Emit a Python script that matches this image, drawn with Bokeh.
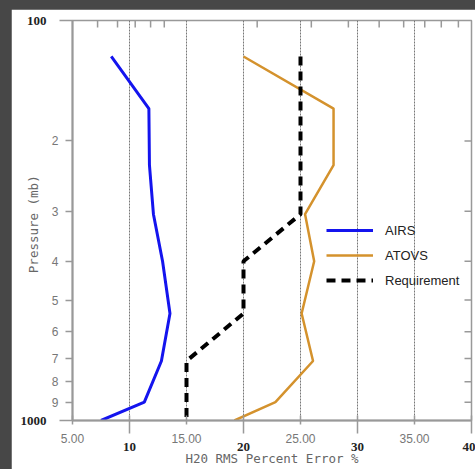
import math
from bokeh.plotting import figure
from bokeh.models import Range1d, LinearAxis, LogAxis, FixedTicker, Legend, LegendItem
from bokeh.layouts import column
from bokeh.embed import file_html
from bokeh.resources import INLINE

# ---- data ----
pressure = [123, 166, 230, 305, 400, 540, 710, 900, 1000]
airs = [8.4, 11.7, 11.75, 12.1, 12.9, 13.55, 12.8, 11.3, 7.5]
atovs = [20.0, 27.9, 27.9, 25.4, 26.2, 25.1, 26.1, 22.8, 19.2]
req_pressure = [123, 305, 400, 540, 710, 1000]
requirement = [25, 25, 20, 20, 15, 15]

# ---- axis ranges / tick definitions ----
x_start, x_end = 5, 40
p_bottom, p_top = 1000, 100
y_minor_ticks = [200, 300, 400, 500, 600, 700, 800, 900]
y_minor_labels = {200: "2", 300: "3", 400: "4", 500: "5", 600: "6", 700: "7", 800: "8", 900: "9"}
y_bold_ticks = [100, 1000]
y_bold_labels = {100: "100", 1000: "1000"}
x_light_ticks = [5, 15, 25, 35]
x_light_labels = {5: "5.00", 15: "15.00", 25: "25.00", 35: "35.00"}
x_bold_ticks = [10, 20, 30, 40]
x_bold_labels = {10: "10", 20: "20", 30: "30", 40: "40"}
x_grid_ticks = [10, 15, 20, 25, 30, 35]
top_ticks = [7.2, 8.95, 10.5, 11.85, 13.05, 21.2, 25.95, 29.2, 31.9, 34.05, 35.9, 37.35, 38.85]

AX = "#999999"

p = figure(width=464, height=460, x_range=Range1d(x_start, x_end), y_range=Range1d(p_bottom, p_top),
           y_axis_type="log", output_backend="svg", toolbar_location=None,
           min_border_left=61, min_border_right=4, min_border_top=11, min_border_bottom=49,
           background_fill_color="white", border_fill_color="white")
p.outline_line_color = AX
p.outline_line_width = 1.5
p.margin = (9, 0, 0, 11)

# left axis 1 : light labels 2..9
ya = p.yaxis[0]
ya.ticker = FixedTicker(ticks=y_minor_ticks, minor_ticks=y_bold_ticks)
ya.major_label_overrides = y_minor_labels
ya.major_tick_out = 7
ya.major_tick_in = 0
ya.minor_tick_out = 13
ya.minor_tick_in = 0
ya.major_label_standoff = 1
ya.major_label_text_font = "Liberation Sans"
ya.major_label_text_font_size = "12px"
ya.major_label_text_color = "#777777"
ya.axis_line_color = AX
ya.axis_line_width = 2
ya.major_tick_line_color = AX
ya.minor_tick_line_color = AX
ya.major_tick_line_width = 1.5
ya.minor_tick_line_width = 1.5

# left axis 2 : bold labels 100 / 1000 and title
ya2 = LogAxis(ticker=FixedTicker(ticks=y_bold_ticks), major_label_overrides=y_bold_labels,
              axis_line_color=None, major_tick_line_color=None, minor_tick_line_color=None,
              major_tick_out=0, major_tick_in=0, major_label_standoff=2,
              major_label_text_font="Liberation Serif", major_label_text_font_style="bold",
              major_label_text_font_size="13px", major_label_text_color="#222222",
              axis_label="Pressure  (mb)", axis_label_standoff=-23,
              axis_label_text_font="DejaVu Sans Mono", axis_label_text_font_size="12.5px",
              axis_label_text_font_style="normal", axis_label_text_color="#666666")
p.add_layout(ya2, "left")

# bottom axis 1 : light labels
xa = p.xaxis[0]
xa.ticker = FixedTicker(ticks=x_light_ticks, minor_ticks=x_bold_ticks)
xa.major_label_overrides = x_light_labels
xa.major_tick_in = 5
xa.major_tick_out = 4
xa.minor_tick_in = 5
xa.minor_tick_out = 13
xa.major_label_standoff = 0
xa.major_label_text_font = "Liberation Sans"
xa.major_label_text_font_size = "12px"
xa.major_label_text_color = "#777777"
xa.axis_line_color = AX
xa.axis_line_width = 2
xa.major_tick_line_color = AX
xa.minor_tick_line_color = AX
xa.major_tick_line_width = 1.5
xa.minor_tick_line_width = 1.5

# bottom axis 2 : bold labels and title
xa2 = LinearAxis(ticker=FixedTicker(ticks=x_bold_ticks), major_label_overrides=x_bold_labels,
                 axis_line_color=None, major_tick_line_color=None, minor_tick_line_color=None,
                 major_tick_out=0, major_tick_in=0, major_label_standoff=-3,
                 major_label_text_font="Liberation Serif", major_label_text_font_style="bold",
                 major_label_text_font_size="13px", major_label_text_color="#222222",
                 axis_label="H20 RMS Percent Error %", axis_label_standoff=-3,
                 axis_label_text_font="DejaVu Sans Mono", axis_label_text_font_size="12.5px",
                 axis_label_text_font_style="normal", axis_label_text_color="#666666")
p.add_layout(xa2, "below")

# grid
p.xgrid.ticker = FixedTicker(ticks=x_grid_ticks)
p.xgrid.grid_line_color = "#777777"
p.xgrid.grid_line_dash = "2 1"
p.xgrid.grid_line_width = 1
p.ygrid.grid_line_color = None

# inward tick marks on the top and right frame edges (half of each dash is clipped by the frame)
p.scatter(top_ticks, [p_top] * len(top_ticks), marker="dash", angle=math.pi / 2, size=14,
          line_color=AX, line_width=1.5)
p.scatter([x_end] * len(y_minor_ticks), y_minor_ticks, marker="dash", size=14,
          line_color=AX, line_width=1.5)

# series
r_airs = p.line(airs, pressure, line_color="#1414ee", line_width=3)
r_atovs = p.line(atovs, pressure, line_color="#d4922d", line_width=2.5)
r_req = p.line(requirement, req_pressure, line_color="black", line_width=4, line_dash="9 6")

legend = Legend(items=[LegendItem(label="AIRS", renderers=[r_airs]),
                       LegendItem(label="ATOVS", renderers=[r_atovs]),
                       LegendItem(label="Requirement", renderers=[r_req])],
                location=(254, 130), background_fill_alpha=0, border_line_color=None,
                glyph_width=47, glyph_height=20, label_height=20, spacing=5,
                padding=0, margin=0, label_standoff=12,
                label_text_font="Liberation Sans", label_text_font_size="13px",
                label_text_color="#222222")
p.add_layout(legend)

layout = column(p, styles={"background-color": "#474747"})

open("out.html", "w").write(file_html(layout, INLINE))
